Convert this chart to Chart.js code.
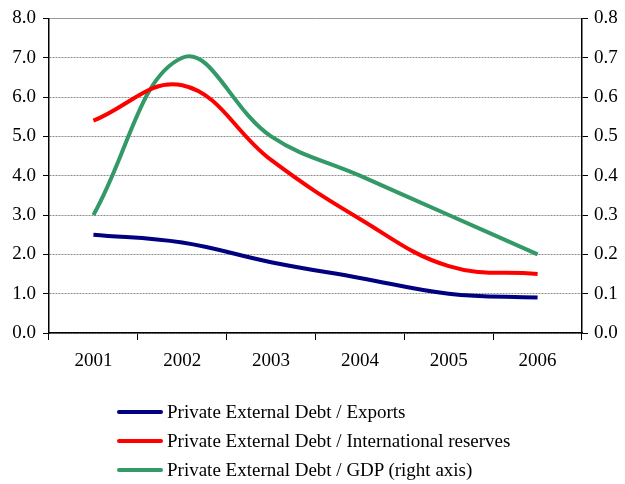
<!DOCTYPE html>
<html>
<head>
<meta charset="utf-8">
<script src="https://cdn.jsdelivr.net/npm/chart.js@4/dist/chart.umd.min.js"></script>
<style>
  html, body { margin: 0; padding: 0; background: #fff; }
  #wrap { position: relative; width: 625px; height: 484px; }
  #legend { position: absolute; left: 117px; top: 397px; font-family: "Liberation Serif", "Times New Roman", serif; font-size: 19px; color: #000; }
  .row { display: flex; align-items: center; height: 29px; }
  .swatch { width: 46px; height: 4px; border-radius: 2px; margin-right: 4px; }
</style>
</head>
<body>
<div id="wrap">
  <canvas id="c" width="625" height="484"></canvas>
  <div id="legend"></div>
</div>
<script>
const years = ['2001', '2002', '2003', '2004', '2005', '2006'];
const debtToExports = [2.5, 2.3, 1.8, 1.4, 1.0, 0.9];
const debtToReserves = [5.4, 6.3, 4.4, 2.9, 1.7, 1.5];
const debtToGdp = [0.3, 0.7, 0.5, 0.4, 0.3, 0.2];
const seriesNames = [
  'Private External Debt / Exports',
  'Private External Debt / International reserves',
  'Private External Debt / GDP (right axis)'
];
const seriesColors = ['#000080', '#FF0000', '#339966'];

const serif = 'Liberation Serif, Times New Roman, serif';

const datasets = [
  { label: seriesNames[0], data: debtToExports, borderColor: seriesColors[0], yAxisID: 'y' },
  { label: seriesNames[1], data: debtToReserves, borderColor: seriesColors[1], yAxisID: 'y' },
  { label: seriesNames[2], data: debtToGdp, borderColor: seriesColors[2], yAxisID: 'y2' }
].map(d => Object.assign(d, {
  borderWidth: 4,
  pointRadius: 0,
  fill: false,
  tension: 0.4,
  borderCapStyle: 'butt'
}));

new Chart(document.getElementById('c'), {
  type: 'line',
  data: { labels: years, datasets },
  options: {
    responsive: false,
    animation: false,
    layout: { padding: { top: 17, left: 0, right: 0, bottom: 0 } },
    plugins: { legend: { display: false }, tooltip: { enabled: false } },
    scales: {
      x: {
        offset: true,
        grid: { offset: true, drawOnChartArea: false, tickLength: 7, tickColor: '#000' },
        border: { color: '#000', width: 1.5 },
        ticks: { color: '#000', font: { family: serif, size: 19 }, padding: 10, maxRotation: 0 },
        afterFit: s => { s.height = 484 - 333; }
      },
      y: {
        position: 'left',
        min: 0, max: 8,
        grid: {
          color: ctx => ctx.tick && ctx.tick.value === 8 ? '#9a9a9a' : '#8c8c8c',
          lineWidth: 1,
          tickLength: 6,
          tickColor: '#000'
        },
        border: { color: '#000', width: 1.5, dash: ctx => ctx.tick && ctx.tick.value === 8 ? [] : [2, 1] },
        ticks: { stepSize: 1, color: '#000', font: { family: serif, size: 19 }, padding: 7,
                 callback: v => v.toFixed(1) },
        afterFit: s => { s.width = 49; }
      },
      y2: {
        position: 'right',
        min: 0, max: 0.8,
        grid: { drawOnChartArea: false, tickLength: 6, tickColor: '#000' },
        border: { color: '#000', width: 1.5 },
        ticks: { stepSize: 0.1, color: '#000', font: { family: serif, size: 19 }, padding: 6,
                 callback: v => v.toFixed(1) },
        afterFit: s => { s.width = 43; }
      }
    }
  }
});

const legend = document.getElementById('legend');
seriesNames.forEach((name, i) => {
  const row = document.createElement('div');
  row.className = 'row';
  const sw = document.createElement('div');
  sw.className = 'swatch';
  sw.style.background = seriesColors[i];
  const txt = document.createElement('span');
  txt.textContent = name;
  row.appendChild(sw);
  row.appendChild(txt);
  legend.appendChild(row);
});
</script>
</body>
</html>
